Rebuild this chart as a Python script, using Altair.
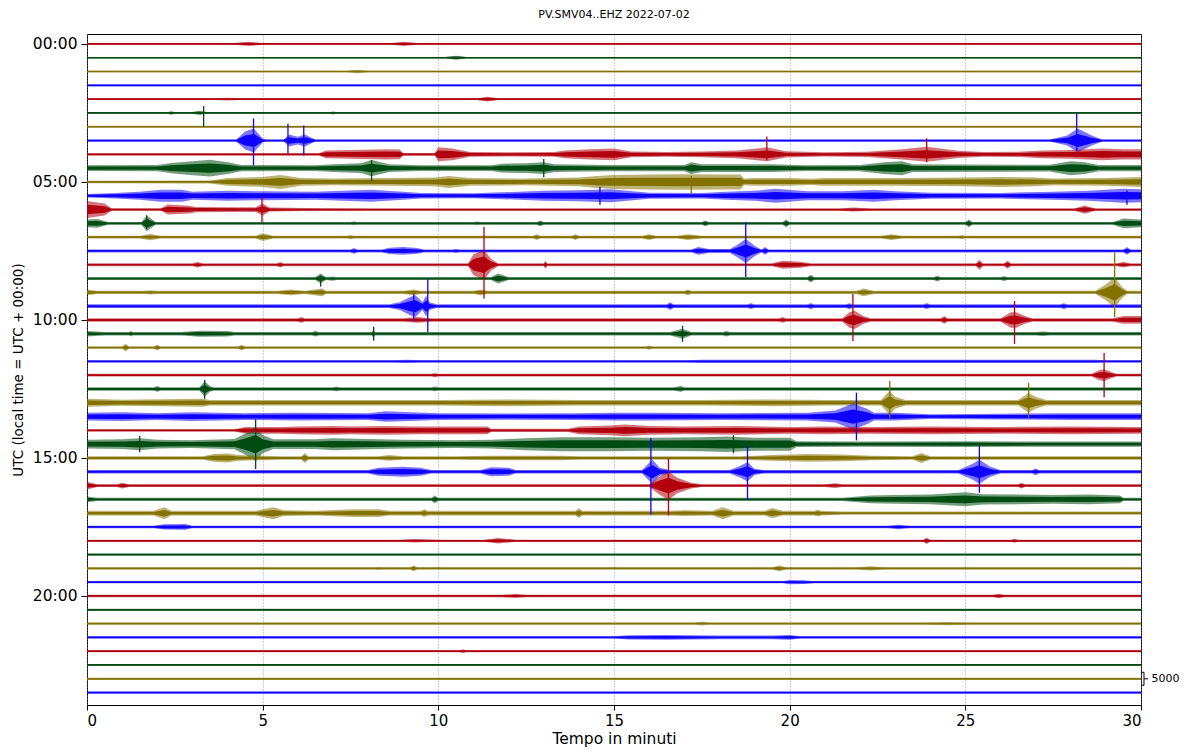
import altair as alt
import pandas as pd

# obspy dayplot colours, cycling red, green, olive, blue
COLORS = ["#B2000F", "#004C12", "#847200", "#0E01FF"]
TRACE_STEP_HOURS = 0.5
SCALE_COUNTS = 5000
SCALE_HOURS = 0.47           # height of the 5000-count bar in hour units
HOURS_PER_COUNT = SCALE_HOURS / SCALE_COUNTS
HOUR_TICKS = [0, 5, 10, 15, 20]
MINUTE_TICKS = [0, 5, 10, 15, 20, 25, 30]
TITLE = "PV.SMV04..EHZ 2022-07-02"

# envelope (half amplitude, counts) read at breakpoints (minute, counts) for each 30-min trace
ENVELOPES = [
    [(0, 350), (4.2, 350), (4.6, 800), (5.0, 350), (8.7, 350), (9.0, 800), (9.4, 350), (30, 350)],
    [(0, 300), (10.2, 300), (10.5, 800), (10.8, 300), (30, 300)],
    [(0, 300), (7.4, 300), (7.7, 700), (8.0, 300), (30, 300)],
    [(0, 350), (30, 350)],
    [(0, 350), (3.6, 350), (4.0, 550), (4.3, 350), (11.1, 350), (11.4, 900), (11.7, 350), (30, 350)],
    [(0, 350), (2.3, 350), (2.4, 700), (2.5, 350), (3.0, 350), (3.2, 800), (3.4, 350), (6.9, 350), (7.0, 600), (7.1, 350), (30, 350)],
    [(0, 350), (30, 350)],
    [(0, 400), (4.25, 400), (4.5, 3500), (4.75, 4600), (5.0, 800), (5.1, 400), (5.6, 400), (5.75, 2300), (6.0, 1500), (6.2, 2300), (6.5, 400),
     (27.4, 400), (27.9, 1900), (28.2, 4600), (28.6, 1900), (28.9, 400), (30, 400)],
    [(0, 400), (6.6, 400), (6.8, 1500), (7.5, 1700), (8.5, 2000), (8.9, 1900), (9.0, 500), (9.9, 500), (10.0, 2700), (10.4, 2300), (10.9, 900),
     (12.0, 800), (13.3, 900), (13.6, 1500), (14.3, 2000), (15.0, 2300), (15.5, 1100), (16.5, 900), (17.5, 1100), (18.5, 1500), (19.35, 2700),
     (19.9, 1200), (21.0, 800), (22.2, 1000), (23.2, 2000), (23.9, 2900), (24.8, 1400), (25.5, 900), (26.5, 1000), (27.2, 1500), (28.0, 1700),
     (28.9, 2300), (29.5, 2000), (30, 2000)],
    [(0, 1100), (2.0, 1200), (2.4, 2000), (3.0, 2700), (3.5, 3200), (4.0, 2300), (4.4, 1200), (6.5, 1100), (7.0, 1500), (7.8, 1900), (8.1, 3100),
     (8.6, 1500), (9.5, 1100), (11.5, 1100), (11.8, 1700), (12.5, 1900), (13.0, 2300), (13.3, 1500), (14.9, 1200), (17.0, 1200), (17.2, 2300),
     (17.5, 1500), (19.5, 1500), (20.5, 1100), (22.0, 1200), (22.7, 2300), (23.2, 2700), (23.5, 1500), (27.4, 1300), (28.0, 2700), (28.4, 2300),
     (28.8, 1200), (30, 1200)],
    [(0, 500), (3.5, 600), (4.0, 1500), (5.0, 1900), (5.5, 2700), (6.1, 1500), (7.0, 1300), (8.5, 1500), (9.9, 1700), (10.3, 2300), (10.9, 1500),
     (12.5, 1300), (14.0, 1700), (14.5, 2300), (15.0, 2700), (16.0, 2900), (17.0, 3000), (18.0, 2900), (18.6, 2900), (18.7, 1300), (19.0, 1500),
     (20.0, 1500), (20.6, 1200), (21.0, 1500), (23.0, 1500), (25.0, 1700), (26.0, 1900), (27.0, 1700), (27.5, 1300), (29.0, 1500), (30, 1900)],
    [(0, 700), (0.8, 1100), (1.5, 1500), (2.1, 2300), (2.7, 2300), (3.0, 1500), (4.0, 1900), (5.0, 1700), (6.5, 1500), (8.1, 2300), (9.0, 1500),
     (9.5, 1100), (11.0, 1000), (12.3, 1500), (13.0, 1900), (14.0, 2100), (14.9, 2500), (15.3, 2000), (16.0, 1200), (17.5, 1100), (18.2, 1500),
     (19.0, 1900), (19.6, 2700), (20.5, 1700), (21.5, 1700), (22.4, 2300), (23.0, 1700), (24.0, 1200), (26.0, 1100), (27.5, 1500), (28.5, 1900),
     (29.5, 2700), (30, 2500)],
    [(0, 3300), (0.5, 2300), (0.7, 500), (2.1, 500), (2.3, 1900), (2.9, 1500), (3.1, 1000), (4.3, 900), (4.8, 900), (5.0, 2300), (5.2, 800),
     (6.2, 600), (8.0, 450), (21.4, 450), (21.8, 800), (22.3, 450), (28.1, 450), (28.4, 1600), (28.7, 450), (30, 450)],
    [(0, 1500), (0.3, 1700), (0.6, 500), (1.55, 500), (1.7, 3000), (1.95, 500), (7.5, 500), (7.6, 700), (7.7, 500), (11.0, 500), (11.1, 700),
     (11.2, 500), (12.8, 500), (12.9, 1100), (13.0, 500), (17.5, 500), (17.6, 1100), (17.7, 500), (19.8, 500), (19.9, 1500), (20.0, 500),
     (25.0, 500), (25.1, 1500), (25.2, 500), (29.2, 500), (29.5, 1900), (30, 1500)],
    [(0, 500), (1.5, 500), (1.8, 1200), (2.1, 500), (4.8, 500), (5.0, 1500), (5.3, 500), (7.4, 500), (7.5, 800), (7.6, 500), (12.7, 500),
     (12.8, 1100), (12.9, 500), (13.8, 500), (13.9, 1100), (14.0, 500), (15.8, 500), (16.0, 1100), (16.2, 500), (16.8, 500), (17.1, 1100),
     (17.5, 500), (22.6, 500), (22.9, 1100), (23.2, 500), (24.8, 500), (24.9, 800), (25.0, 500), (30, 500)],
    [(0, 550), (7.5, 550), (7.6, 1100), (7.7, 550), (8.4, 550), (8.6, 1200), (9.0, 1500), (9.4, 1100), (9.6, 550), (10.4, 550), (10.5, 800),
     (10.6, 550), (17.2, 550), (17.4, 1500), (17.7, 800), (18.3, 800), (18.5, 2300), (18.75, 4600), (19.0, 2000), (19.2, 550), (19.3, 1500),
     (19.4, 550), (29.5, 550), (29.6, 1500), (29.7, 550), (30, 550)],
    [(0, 550), (3.0, 550), (3.15, 1100), (3.3, 550), (5.4, 550), (5.5, 1100), (5.6, 550), (10.85, 550), (11.0, 4000), (11.3, 5800), (11.5, 2300),
     (11.7, 550), (13.0, 550), (13.05, 1500), (13.1, 550), (19.5, 550), (19.8, 1500), (20.3, 1200), (20.6, 550), (25.3, 550), (25.4, 1900),
     (25.5, 550), (26.1, 550), (26.2, 1500), (26.3, 550), (29.3, 550), (29.5, 1100), (29.7, 550), (30, 550)],
    [(0, 600), (6.5, 600), (6.65, 1900), (6.8, 600), (7.0, 800), (7.1, 600), (11.5, 600), (11.7, 1900), (12.0, 600), (20.5, 600), (20.6, 1500),
     (20.7, 600), (24.1, 600), (24.2, 1100), (24.3, 600), (26.0, 600), (26.1, 900), (26.2, 600), (30, 600)],
    [(0, 1100), (0.3, 600), (1.6, 600), (1.8, 800), (2.0, 600), (5.4, 600), (5.8, 1100), (6.2, 600), (6.7, 1500), (6.8, 600), (9.0, 600),
     (9.3, 1100), (9.5, 600), (11.0, 600), (11.2, 1100), (11.4, 600), (17.0, 600), (17.1, 1100), (17.2, 600), (21.9, 600), (22.1, 1500),
     (22.4, 600), (28.7, 600), (29.0, 3000), (29.25, 5800), (29.45, 2300), (29.6, 600), (30, 600)],
    [(0, 700), (8.6, 700), (8.9, 1500), (9.2, 3500), (9.35, 4200), (9.55, 1500), (9.65, 4000), (9.75, 1500), (9.95, 700), (16.5, 700),
     (16.6, 1500), (16.7, 700), (18.8, 700), (18.9, 1100), (19.0, 700), (20.5, 700), (20.6, 1100), (20.7, 700), (21.6, 700), (21.7, 1100),
     (21.8, 700), (23.8, 700), (23.9, 1100), (24.0, 700), (27.7, 700), (27.8, 1100), (27.9, 700), (30, 700)],
    [(0, 650), (6.0, 650), (6.1, 1100), (6.2, 650), (9.0, 650), (9.4, 1100), (9.8, 650), (19.7, 650), (19.8, 1100), (19.9, 650), (21.5, 650),
     (21.7, 3000), (21.85, 3500), (22.1, 1500), (22.3, 650), (24.3, 650), (24.4, 1500), (24.5, 650), (26.0, 650), (26.3, 3000), (26.45, 3000),
     (26.7, 1500), (26.9, 650), (29.2, 650), (29.5, 1500), (30, 1500)],
    [(0, 1100), (0.5, 700), (1.2, 700), (1.25, 1100), (1.3, 700), (2.7, 700), (3.2, 1200), (4.0, 1100), (4.2, 700), (6.4, 700), (6.5, 1100),
     (6.6, 700), (8.1, 700), (8.15, 1500), (8.2, 700), (16.6, 700), (16.95, 1900), (17.2, 700), (18.1, 700), (18.2, 1100), (18.3, 700),
     (27.0, 700), (27.2, 900), (27.4, 700), (30, 700)],
    [(0, 400), (1.0, 400), (1.1, 1500), (1.2, 400), (1.9, 400), (2.0, 1100), (2.1, 400), (4.3, 400), (4.4, 1100), (4.5, 400), (15.9, 400),
     (16.0, 800), (16.1, 400), (30, 400)],
    [(0, 400), (8.7, 400), (9.1, 600), (9.5, 400), (17.0, 400), (17.5, 650), (25.0, 650), (28.7, 650), (29.0, 400), (30, 400)],
    [(0, 550), (9.8, 550), (9.9, 800), (10.0, 550), (28.6, 550), (28.8, 1900), (28.95, 2300), (29.1, 1500), (29.3, 550), (30, 550)],
    [(0, 700), (1.9, 700), (2.0, 1100), (2.1, 700), (3.2, 700), (3.35, 3000), (3.5, 1100), (3.6, 700), (7.0, 700), (7.1, 900), (7.2, 700),
     (9.8, 700), (9.9, 900), (10.0, 700), (16.7, 700), (16.9, 1100), (17.0, 700), (30, 700)],
    [(0, 1500), (1.0, 1200), (3.3, 1500), (3.5, 1100), (10.0, 1100), (12.0, 1300), (14.0, 1100), (17.5, 1100), (19.5, 1300), (21.0, 1100),
     (22.6, 1100), (22.85, 4600), (23.0, 2300), (23.3, 1100), (26.5, 1100), (26.8, 3800), (27.0, 2300), (27.3, 1100), (30, 1100)],
    [(0, 1500), (1.0, 1700), (2.0, 1300), (3.0, 1700), (4.5, 1300), (6.0, 1500), (8.0, 1300), (8.5, 2000), (9.2, 1700), (10.0, 1300),
     (12.0, 1200), (14.0, 1300), (15.0, 1500), (16.0, 1500), (18.0, 1300), (20.5, 1500), (21.3, 2300), (21.8, 5000), (22.2, 3000),
     (22.4, 1500), (23.0, 1500), (24.0, 900), (26.0, 1100), (28.0, 1300), (30, 1300)],
    [(0, 450), (4.2, 450), (4.5, 1300), (5.5, 1300), (6.0, 1500), (7.0, 1700), (7.5, 1500), (8.5, 1700), (9.5, 1500), (10.5, 1500),
     (11.4, 1500), (11.5, 600), (13.7, 600), (14.0, 1500), (14.9, 1900), (15.3, 2300), (16.0, 1700), (17.0, 1500), (18.5, 1700), (20.0, 1300),
     (21.0, 1500), (22.3, 1300), (24.0, 1500), (26.0, 1300), (28.0, 1500), (30, 1300)],
    [(0, 1700), (1.0, 1900), (1.5, 2300), (2.0, 1700), (3.0, 1500), (4.2, 2000), (4.5, 4000), (4.8, 6500), (5.0, 3500), (5.3, 1900),
     (6.5, 1900), (7.0, 2300), (8.0, 2000), (9.0, 1700), (10.5, 1500), (11.5, 1700), (12.5, 2300), (13.5, 2700), (14.9, 2700), (16.0, 2500),
     (17.5, 2700), (18.2, 3000), (19.0, 2500), (20.0, 2500), (20.2, 1100), (22.0, 1000), (25.0, 1100), (27.0, 1000), (30, 1000)],
    [(0, 650), (3.3, 650), (3.6, 1500), (4.0, 1700), (4.3, 1100), (5.5, 650), (6.1, 650), (6.2, 1900), (6.3, 650), (8.3, 650), (8.6, 1100),
     (9.0, 650), (10.5, 650), (11.5, 900), (13.5, 900), (14.0, 650), (18.6, 650), (19.5, 1100), (20.5, 1500), (21.5, 1300), (22.3, 900),
     (23.5, 650), (23.75, 1900), (24.0, 650), (30, 650)],
    [(0, 650), (8.0, 650), (8.3, 1500), (9.0, 1900), (9.5, 1500), (9.8, 650), (11.2, 650), (11.5, 1700), (12.0, 1500), (12.2, 650),
     (15.8, 650), (16.0, 3500), (16.1, 4600), (16.3, 1500), (16.6, 700), (18.3, 700), (18.6, 2300), (18.8, 3800), (19.0, 1200), (19.3, 650),
     (24.8, 650), (25.2, 3000), (25.4, 4600), (25.7, 2000), (26.0, 650), (26.9, 650), (27.0, 1300), (27.1, 650), (30, 650)],
    [(0, 1500), (0.3, 550), (0.85, 550), (1.0, 1100), (1.2, 550), (16.0, 550), (16.3, 3500), (16.55, 5500), (16.8, 3000), (17.2, 1100),
     (17.5, 550), (21.0, 550), (21.3, 900), (21.5, 550), (26.5, 550), (26.6, 1100), (26.7, 550), (30, 550)],
    [(0, 1100), (0.3, 650), (9.8, 650), (9.9, 1500), (10.0, 650), (21.5, 650), (22.3, 1500), (23.0, 1700), (24.0, 1900), (24.5, 2300),
     (25.0, 2700), (25.5, 2000), (26.5, 1900), (27.5, 1700), (28.5, 1900), (29.4, 1500), (29.5, 650), (30, 650)],
    [(0, 900), (1.9, 900), (2.2, 2300), (2.4, 900), (4.8, 900), (5.3, 2300), (5.6, 1100), (6.5, 900), (7.6, 1500), (8.3, 1500), (8.6, 900),
     (9.5, 900), (9.6, 1500), (9.7, 900), (13.9, 900), (14.0, 1900), (14.1, 900), (16.5, 900), (17.0, 1100), (17.8, 900), (18.1, 2300),
     (18.4, 900), (19.3, 900), (19.5, 2000), (19.8, 900), (20.7, 900), (20.8, 1300), (20.9, 900), (21.5, 600), (30, 600)],
    [(0, 500), (1.9, 500), (2.2, 1000), (2.8, 1100), (3.0, 500), (22.8, 500), (23.1, 900), (23.4, 500), (30, 500)],
    [(0, 400), (8.9, 400), (9.3, 700), (10.0, 400), (11.3, 400), (11.7, 1100), (12.2, 400), (23.8, 400), (23.9, 1200), (24.0, 400),
     (26.3, 400), (26.4, 800), (26.5, 400), (30, 400)],
    [(0, 400), (30, 400)],
    [(0, 400), (8.2, 400), (8.3, 600), (8.4, 400), (9.2, 400), (9.3, 1100), (9.4, 400), (19.5, 400), (19.7, 1100), (19.9, 400), (21.9, 400),
     (22.3, 800), (22.7, 400), (30, 400)],
    [(0, 400), (19.8, 400), (20.0, 800), (20.4, 700), (20.7, 400), (30, 400)],
    [(0, 450), (11.8, 450), (12.2, 800), (12.5, 450), (25.8, 450), (25.95, 900), (26.1, 450), (30, 450)],
    [(0, 350), (30, 350)],
    [(0, 400), (17.3, 400), (17.5, 700), (17.7, 400), (23.8, 400), (24.5, 600), (25.2, 400), (30, 400)],
    [(0, 450), (15.0, 450), (15.4, 800), (16.5, 900), (18.0, 700), (19.5, 700), (20.0, 900), (20.3, 450), (30, 450)],
    [(0, 400), (10.6, 400), (10.7, 700), (10.8, 400), (30, 400)],
    [(0, 350), (30, 350)],
    [(0, 350), (30, 350)],
    [(0, 400), (30, 400)],
]

# sharp peaks reaching beyond the envelope: (trace, minute, counts up, counts down)
SPIKES = [
    (5, 3.32, 2700, 5400), (7, 4.74, 8500, 9600), (7, 5.72, 6500, 5000), (7, 6.17, 5800, 5800),
    (7, 28.17, 10400, 3900), (8, 19.35, 6900, 2300), (8, 23.9, 6200, 3000), (9, 8.1, 3100, 5000),
    (9, 13.0, 3500, 3500), (10, 17.2, 2300, 4600), (11, 14.6, 3500, 3500), (11, 29.6, 2000, 3500),
    (12, 4.98, 4600, 5000), (13, 1.7, 3100, 2300), (15, 18.75, 11200, 10000), (16, 11.3, 14600, 13000),
    (17, 6.65, 1200, 3100), (18, 29.25, 15400, 9600), (19, 9.3, 4600, 5800), (19, 9.7, 10400, 10000),
    (20, 21.8, 10000, 8100), (20, 26.4, 7300, 9200), (21, 8.16, 2700, 2700), (21, 16.95, 3100, 3100),
    (24, 28.95, 8500, 8500), (25, 3.35, 3500, 3800), (26, 22.85, 8500, 5800), (26, 26.8, 7700, 5800),
    (27, 21.9, 9200, 9200), (29, 1.5, 3100, 3100), (29, 4.8, 9600, 9600), (29, 18.4, 3500, 3500),
    (31, 16.05, 13000, 16500), (31, 18.8, 10000, 10800), (31, 25.4, 10000, 8100), (32, 16.55, 10400, 11500),
]

SCALE_TRACE = 46  # the scale bar sits beside the 23:00 trace
CORE_FRACTION = 0.55  # dense core of the oscillation, drawn solid; the rest is drawn translucent

rows = []
for i, env in enumerate(ENVELOPES):
    base = i * TRACE_STEP_HOURS
    for m, a in env:
        core = max(a * CORE_FRACTION, min(a, 330))
        rows.append({"trace": i, "grp": str(i % 4), "minute": m,
                     "lo": base - a * HOURS_PER_COUNT, "hi": base + a * HOURS_PER_COUNT,
                     "clo": base - core * HOURS_PER_COUNT, "chi": base + core * HOURS_PER_COUNT})
env_df = pd.DataFrame(rows)

spike_df = pd.DataFrame([
    {"trace": t, "grp": str(t % 4), "minute": m,
     "lo": t * TRACE_STEP_HOURS - up * HOURS_PER_COUNT,
     "hi": t * TRACE_STEP_HOURS + dn * HOURS_PER_COUNT}
    for t, m, up, dn in SPIKES
])

color = alt.Color("grp:N", scale=alt.Scale(domain=["0", "1", "2", "3"], range=COLORS), legend=None)

x_enc = alt.X("minute:Q", scale=alt.Scale(domain=[0, 30], nice=False, zero=False),
              axis=alt.Axis(values=MINUTE_TICKS, grid=True, gridDash=[1, 2], gridColor="#8a8a8a",
                            gridWidth=0.8, title="Tempo in minuti", labelFontSize=15, titleFontSize=15.5,
                            tickSize=5, labelPadding=3, titlePadding=3, domain=False,
                            tickColor="black", labelColor="black", titleColor="black",
                            labelFont="DejaVu Sans", titleFont="DejaVu Sans", titleFontWeight="normal"))
y_enc = alt.Y("lo:Q", stack=False,
              scale=alt.Scale(domain=[-0.36, 23.95], reverse=True, nice=False, zero=False),
              axis=alt.Axis(values=HOUR_TICKS, grid=False,
                            labelExpr="(datum.value < 10 ? '0' : '') + datum.value + ':00'",
                            title="UTC (local time = UTC + 00:00)", labelFontSize=15.5, titleFontSize=13.5,
                            tickSize=6, labelPadding=4, titlePadding=7, domain=False,
                            tickColor="black", labelColor="black", titleColor="black",
                            labelFont="DejaVu Sans", titleFont="DejaVu Sans", titleFontWeight="normal"))

outer = alt.Chart(env_df).mark_area(opacity=0.55, orient="vertical").encode(
    x=x_enc, y=y_enc, y2="hi:Q", color=color, detail="trace:N")

core = alt.Chart(env_df).mark_area(opacity=1, orient="vertical").encode(
    x="minute:Q", y=alt.Y("clo:Q", stack=False), y2="chi:Q", color=color, detail="trace:N")

spikes = alt.Chart(spike_df).mark_rule(strokeWidth=1.3).encode(
    x="minute:Q", y="lo:Q", y2="hi:Q", color=color)

# scale bar: a bracket 5000 counts tall beside the 23:00 trace
c = SCALE_TRACE * TRACE_STEP_HOURS
half = SCALE_COUNTS / 2 * HOURS_PER_COUNT
bracket_df = pd.DataFrame({"minute": [30.0, 30.085, 30.085, 30.0],
                           "lo": [c - half, c - half, c + half, c + half], "o": [0, 1, 2, 3]})
bracket = alt.Chart(bracket_df).mark_line(color="black", strokeWidth=1, clip=False).encode(
    x="minute:Q", y="lo:Q", order="o:Q")
mid_df = pd.DataFrame({"minute": [30.085], "m2": [30.2], "lo": [c]})
mid_tick = alt.Chart(mid_df).mark_rule(color="black", strokeWidth=1, clip=False).encode(
    x="minute:Q", x2="m2:Q", y="lo:Q")
label_df = pd.DataFrame({"minute": [30.3], "lo": [c], "txt": [str(SCALE_COUNTS)]})
scale_label = alt.Chart(label_df).mark_text(align="left", baseline="middle", fontSize=11,
                                            font="DejaVu Sans", color="black", clip=False).encode(
    x="minute:Q", y="lo:Q", text="txt:N")

chart = alt.layer(outer, core, spikes, bracket, mid_tick, scale_label).properties(
    width=1054, height=671,
    padding={"left": 87, "top": 34, "right": 46, "bottom": 47},
    autosize=alt.AutoSizeParams(type="none"),
    background="white",
    title=alt.TitleParams(TITLE, fontSize=11, fontWeight="normal", font="DejaVu Sans",
                          anchor="middle", offset=14, color="black"),
).configure_view(stroke="black", strokeWidth=1)

chart.save("out.html", embed_options={"renderer": "svg", "actions": False})
